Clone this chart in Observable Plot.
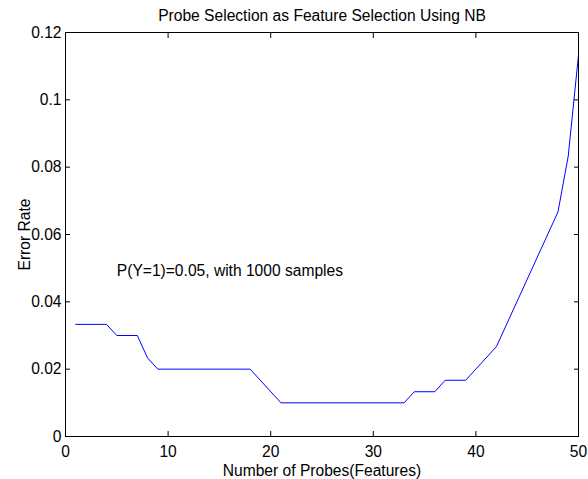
<!DOCTYPE html>
<html>
<head>
<meta charset="utf-8">
<script src="https://cdn.jsdelivr.net/npm/d3@7"></script>
<script src="https://cdn.jsdelivr.net/npm/@observablehq/plot@0.6"></script>
<style>
  html, body { margin: 0; padding: 0; background: #fff; }
  svg { font-family: "Liberation Sans", Arial, Helvetica, sans-serif; }
</style>
</head>
<body>
<div id="chart"></div>
<script>
const title = "Probe Selection as Feature Selection Using NB";
const xLabel = "Number of Probes(Features)";
const yLabel = "Error Rate";
const note = "P(Y=1)=0.05, with 1000 samples";
const noteX = 5;
const noteY = 0.05;

const probes = [1, 4, 5, 7, 8, 9, 18, 21, 33, 34, 36, 37, 39, 42, 48, 49, 50];
const errorRate = [0.0333, 0.0333, 0.03, 0.03, 0.0233, 0.02, 0.02, 0.01, 0.01, 0.0133, 0.0133, 0.0167, 0.0167, 0.0267, 0.0667, 0.0833, 0.1133];

const xTicks = [0, 10, 20, 30, 40, 50];
const xTickLabels = ["0", "10", "20", "30", "40", "50"];
const yTicks = [0, 0.02, 0.04, 0.06, 0.08, 0.1, 0.12];
const yTickLabels = ["0", "0.02", "0.04", "0.06", "0.08", "0.1", "0.12"];

const data = probes.map((p, i) => ({probes: p, err: errorRate[i]}));
const blank = () => "";
const FS = 15.6;

const chart = Plot.plot({
  width: 588,
  height: 479,
  marginLeft: 65,
  marginRight: 10,
  marginTop: 32,
  marginBottom: 43,
  style: {fontSize: FS + "px", fontFamily: "Liberation Sans, Arial, sans-serif", color: "black", background: "white"},
  x: {domain: [0, 50], axis: null},
  y: {domain: [0, 0.12], axis: null},
  marks: [
    Plot.line(data, {x: "probes", y: "err", stroke: "#0000ff", strokeWidth: 1}),
    Plot.axisX(xTicks, {anchor: "bottom", tickSize: -5, tickFormat: blank, label: null, strokeOpacity: 1}),
    Plot.axisX(xTicks, {anchor: "top", tickSize: -5, tickFormat: blank, label: null, strokeOpacity: 1}),
    Plot.axisY(yTicks, {anchor: "left", tickSize: -5, tickFormat: blank, label: null, strokeOpacity: 1}),
    Plot.axisY(yTicks, {anchor: "right", tickSize: -5, tickFormat: blank, label: null, strokeOpacity: 1}),
    Plot.axisX(xTicks, {anchor: "bottom", tickSize: 0, tickPadding: 9, tickFormat: (d, i) => xTickLabels[i], label: null, fontSize: FS, fill: "black"}),
    Plot.axisY(yTicks, {anchor: "left", tickSize: 0, tickPadding: 4, tickFormat: (d, i) => yTickLabels[i], label: null, fontSize: FS, fill: "black"}),
    Plot.frame({stroke: "black", strokeWidth: 1}),
    Plot.text([note], {x: () => noteX, y: () => noteY, text: d => d, textAnchor: "start", lineAnchor: "middle", dy: 3, fontSize: FS, fill: "black"}),
    Plot.text([title], {frameAnchor: "top", textAnchor: "middle", lineAnchor: "bottom", dy: -12, text: d => d, fontSize: FS, fill: "black"}),
    Plot.text([xLabel], {frameAnchor: "bottom", textAnchor: "middle", lineAnchor: "bottom", dy: 39, text: d => d, fontSize: FS, fill: "black"}),
    Plot.text([yLabel], {frameAnchor: "left", textAnchor: "middle", lineAnchor: "bottom", dx: -36, rotate: -90, text: d => d, fontSize: FS, fill: "black"})
  ]
});
document.getElementById("chart").appendChild(chart);
</script>
</body>
</html>
